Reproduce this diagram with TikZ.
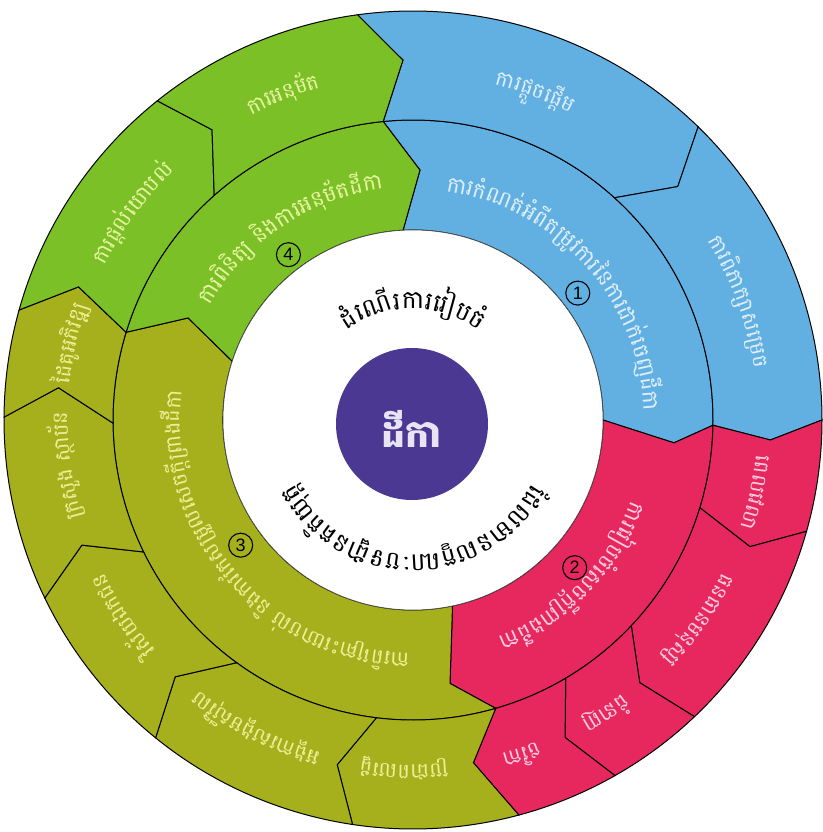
\documentclass[tikz,border=0pt]{standalone}
\usepackage{fontspec}
\setmainfont{Liberation Sans}
\newfontfamily\kh[Script=Khmer]{Battambang}
\definecolor{cblue}{RGB}{98,176,226}
\definecolor{cgreen}{RGB}{124,192,40}
\definecolor{colive}{RGB}{166,176,28}
\definecolor{cpink}{RGB}{230,40,95}
\definecolor{cpurple}{RGB}{74,56,146}
\definecolor{tblue}{RGB}{222,238,250}
\definecolor{tgreen}{RGB}{232,245,160}
\definecolor{tolive}{RGB}{238,238,150}
\definecolor{tpink}{RGB}{252,205,222}
\definecolor{tcenter}{RGB}{232,228,246}

\newdimen\arcTot
\newdimen\arcW
\newcommand\measurechunk[1]{%
  \pgfinterruptpicture
    \setbox0=\hbox{#1}\global\arcW=\wd0
  \endpgfinterruptpicture
}
% #1 baseline radius, #2 middle angle, #3 font, #4 colour, #5 chunks (read clockwise, tops outward)
\newcommand\arctext[5]{%
  \global\arcTot=0pt
  \foreach \ch in {#5}{\measurechunk{#3\ch}\global\advance\arcTot by \arcW}%
  \pgfmathsetmacro\arcStart{#2 + (\arcTot/2)/(#1)*180/pi}%
  \global\let\arcCur\arcStart
  \foreach \ch in {#5}{%
    \measurechunk{#3\ch}%
    \pgfmathsetmacro\arcMid{\arcCur - (\arcW/2)/(#1)*180/pi}%
    \pgfmathsetmacro\arcRot{\arcMid-90}%
    \node[text=#4, inner sep=0pt, outer sep=0pt, rotate=\arcRot, anchor=base] at (\arcMid:#1) {#3\ch};%
    \pgfmathsetmacro\arcNxt{\arcCur - \arcW/(#1)*180/pi}%
    \global\let\arcCur\arcNxt
  }%
}
% #1 fill, #2 inner r, #3 outer r, #4 ccw boundary ao/at/rt/ai, #5 cw boundary
\newcommand\segment[5]{%
  \def\getA##1/##2/##3/##4\relax{\def\Aao{##1}\def\Aat{##2}\def\Art{##3}\def\Aai{##4}}%
  \def\getB##1/##2/##3/##4\relax{\def\Bao{##1}\def\Bat{##2}\def\Brt{##3}\def\Bai{##4}}%
  \getA#4\relax \getB#5\relax
  \filldraw[fill=#1, draw=black, line width=1pt, line join=miter]
    (\Aao:#3) arc[start angle=\Aao, end angle=\Bao, radius=#3]
    -- (\Bat:\Brt) -- (\Bai:#2)
    arc[start angle=\Bai, end angle=\Aai, radius=#2]
    -- (\Aat:\Art) -- cycle;
}
\tikzset{numc/.style={circle, draw=black, line width=1.1pt, inner sep=0pt, minimum size=24pt, font=\fontsize{18}{18}\selectfont}}
\newcommand\innerfont{\kh\fontsize{22}{24}\selectfont}
\newcommand\outerfont{\kh\fontsize{21}{23}\selectfont}
\newcommand\whitefont{\kh\fontsize{25}{27}\selectfont}

\begin{document}
\begin{tikzpicture}[x=1pt,y=1pt]
\useasboundingbox (-413,-412) rectangle (409,420);
\fill[white] (-413,-412) rectangle (409,420);
% inner ring
\segment{cblue}{190}{300}{95.7/88.4/250/93}{-1/-5/262/0}
\segment{cpink}{190}{300}{-1/-5/262/0}{-74/-82/266/-78}
\segment{colive}{190}{300}{-74/-82/266/-78}{-197/-204.4/247/-198}
\segment{cgreen}{190}{300}{163/155.6/247/162}{95.7/88.4/250/93}
% outer ring
\segment{cblue}{300}{409}{97.8/91.6/360/95.7}{45.8/41.4/353/47.8}
\segment{cblue}{300}{409}{45.8/41.4/353/47.8}{0/-3.2/358/-1}
\segment{cpink}{300}{409}{0/-3.2/358/-1}{-15.8/-20.6/360/-17}
\segment{cpink}{300}{409}{-15.8/-20.6/360/-17}{-46.5/-49.2/347/-43.3}
\segment{cpink}{300}{409}{-46.5/-49.2/347/-43.3}{-60.4/-64.4/352/-59.4}
\segment{cpink}{300}{409}{-60.4/-64.4/352/-59.4}{-75/-80/348/-74}
\segment{colive}{300}{409}{-75/-80/348/-74}{-98.5/-102.4/353/-97}
\segment{colive}{300}{409}{-98.5/-102.4/353/-97}{-129/-132.8/350/-126}
\segment{colive}{300}{409}{-129/-132.8/350/-126}{-154.2/-159.3/354/-153.9}
\segment{colive}{300}{409}{-154.2/-159.3/354/-153.9}{-180.4/-185.2/356/-179.4}
\segment{colive}{300}{409}{-180.4/-185.2/356/-179.4}{-195.6/-201.7/360/-197}
\segment{cgreen}{300}{409}{164.4/158.3/360/163}{128.7/124.7/353/131.5}
\segment{cgreen}{300}{409}{128.7/124.7/353/131.5}{97.8/91.6/360/95.7}
% centre
\filldraw[fill=white, draw=black!70, line width=0.6pt] (0,0) circle[radius=190];
\fill[cpurple] (-1,-4) circle[radius=76];
\node[text=tcenter, font=\kh\bfseries\fontsize{38}{40}\selectfont] (centre) at (-1,-9) {ដីកា};
% white ring texts
\arctext{111}{90}{\whitefont}{black}{ដំ,ណើ,រ,កា,រ,រៀ,ប,ចំ}
\arctext{135}{-90}{\whitefont}{black}{ដែ,ល,មា,ន,ល,ក្ខ,ណៈ,ប,ទ,ដ្ឋា,ន,គ,តិ,យុ,ត្ត}
% inner ring texts
\arctext{231}{42}{\innerfont}{tblue}{កា,រ,កំ,ណ,ត់,អំ,ពី,ត,ម្រូ,វ,កា,រ,នៃ,កា,រ,ដា,ក់,ចេ,ញ,ដី,កា}
\arctext{233}{-44.5}{\innerfont}{tpink}{កា,រ,រៀ,ប,ចំ,សេ,ច,ក្តី,ព្រា,ង,ដី,កា}
\arctext{233}{-139}{\kh\fontsize{21}{23}\selectfont}{tolive}{កា,រ,ពិ,គ្រោះ,យោ,ប,ល់,~,និ,ង,កា,រ,កែ,ស,ម្រួ,ល,សេ,ច,ក្តី,ព្រា,ង,ដី,កា}
\arctext{233}{124}{\innerfont}{tgreen}{កា,រ,ពិ,និ,ត្យ,~,និ,ង,កា,រ,អ,នុ,ម័,ត,ដី,កា}
% outer ring texts
\arctext{345}{111.7}{\outerfont}{tgreen}{កា,រ,អ,នុ,ម័,ត}
\arctext{345}{143.6}{\outerfont}{tgreen}{កា,រ,ផ្ត,ល់,យោ,ប,ល់}
\arctext{345}{69.5}{\outerfont}{tblue}{កា,រ,ផ្តួ,ច,ផ្តើ,ម}
\arctext{345}{19.9}{\outerfont}{tblue}{កា,រ,ពិ,ភា,ក្សា,ស,ម្រេ,ច}
\arctext{345}{-12}{\outerfont}{tpink}{ពេ,ល,វេ,លា}
\arctext{345}{-35}{\outerfont}{tpink}{ធ,ន,ធា,ន,ម,នុ,ស្ស}
\arctext{345}{-56.7}{\outerfont}{tpink}{ជំ,នា,ញ}
\arctext{345}{-72}{\outerfont}{tpink}{ថ,វិ,កា}
\arctext{345}{-91.5}{\outerfont}{tolive}{ប្រ,ជា,ព,ល,រ,ដ្ឋ}
\arctext{345}{-117}{\outerfont}{tolive}{អ,ង្គ,កា,រ,ស,ង្គ,ម,ស៊ី,វិ,ល}
\arctext{345}{-146}{\outerfont}{tolive}{វិ,ស័,យ,ឯ,ក,ជ,ន}
\arctext{345}{-172.5}{\outerfont}{tolive}{ក្រ,សួ,ង,~,ស្ថា,ប័,ន}
\arctext{345}{-192.6}{\outerfont}{tolive}{ដៃ,គូ,អ,ភិ,វ,ឌ្ឍ}
% step numbers
\node[numc] (n1) at (37.6:208) {1};
\node[numc] (n2) at (-42.4:219) {2};
\node[numc] (n3) at (-144:213) {3};
\node[numc] (n4) at (127:207) {4};
\end{tikzpicture}
\end{document}
